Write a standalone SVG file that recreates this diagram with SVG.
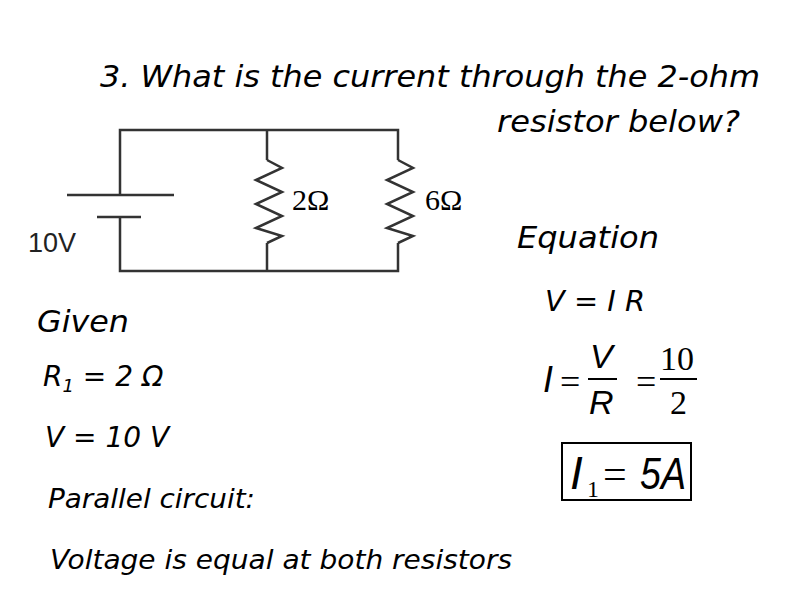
<svg xmlns="http://www.w3.org/2000/svg" width="800" height="600" viewBox="0 0 800 600">
<style>
.t{font-family:"DejaVu Sans",sans-serif;font-style:italic;fill:#000}
.w{stroke:#333;stroke-width:2.5;fill:none}
.c{font-family:"Liberation Sans",sans-serif;fill:#222}
.s{font-family:"Liberation Serif",serif;fill:#000}
.m{font-family:"Liberation Sans",sans-serif;font-style:italic;fill:#000}
</style>
<rect width="800" height="600" fill="#fff"/>
<g id="title">
<text class="t" x="100" y="87" font-size="31" textLength="660" lengthAdjust="spacingAndGlyphs">3. What is the current through the 2-ohm</text>
<text class="t" x="497" y="132" font-size="31" textLength="243" lengthAdjust="spacingAndGlyphs">resistor below?</text>
</g>
<g id="circuit">
<path class="w" d="M120,195 V130 H398 V160 M120,217 V271 H398 V243 M267,130 V160 M267,243 V271"/>
<path class="w" d="M67,195 H174 M97,217 H141"/>
<path class="w" d="M267,160 L282,168 L256,180 L282,192 L256,204 L282,216 L256,228 L282,236 L267,243"/>
<path class="w" d="M398,160 L413,168 L387,180 L413,192 L387,204 L413,216 L387,228 L413,236 L398,243"/>
<text class="c" x="28" y="252" font-size="27">10V</text>
<text class="s" x="292" y="210" font-size="30">2Ω</text>
<text class="s" x="425" y="210" font-size="30">6Ω</text>
</g>
<g id="text">
<text class="t" x="517" y="248" font-size="31" textLength="142" lengthAdjust="spacingAndGlyphs">Equation</text>
<text class="t" x="545" y="311" font-size="28" xml:space="preserve" textLength="100" lengthAdjust="spacingAndGlyphs">V = I R</text>
<text class="t" x="37" y="332" font-size="31" textLength="92" lengthAdjust="spacingAndGlyphs">Given</text>
<text class="t" x="43" y="386" font-size="28">R<tspan font-size="18" dy="6">1</tspan><tspan dy="-6"> = 2 Ω</tspan></text>
<text class="t" x="45" y="447" font-size="28">V = 10 V</text>
<text class="t" x="48" y="508" font-size="27" textLength="207" lengthAdjust="spacingAndGlyphs">Parallel circuit:</text>
<text class="t" x="50" y="569" font-size="27" textLength="462" lengthAdjust="spacingAndGlyphs">Voltage is equal at both resistors</text>
</g>
<g id="formula">
<text class="m" x="543" y="392" font-size="36">I</text>
<text class="s" x="560" y="394" font-size="36">=</text>
<text class="m" x="590" y="368" font-size="34">V</text>
<line x1="588" y1="379" x2="617" y2="379" stroke="#000" stroke-width="2"/>
<text class="m" x="589" y="414" font-size="34">R</text>
<text class="s" x="636" y="394" font-size="36">=</text>
<text class="s" x="660" y="370" font-size="34">10</text>
<line x1="660" y1="379" x2="697" y2="379" stroke="#000" stroke-width="2"/>
<text class="s" x="670" y="414" font-size="34">2</text>
<rect x="562" y="443" width="129" height="57" fill="none" stroke="#000" stroke-width="2"/>
<text class="m" x="570" y="489" font-size="46">I</text>
<text class="s" x="587" y="497" font-size="24">1</text>
<text class="s" x="603" y="488" font-size="42">=</text>
<text class="m" x="640" y="489" font-size="44" textLength="46" lengthAdjust="spacingAndGlyphs">5A</text>
</g>
</svg>
